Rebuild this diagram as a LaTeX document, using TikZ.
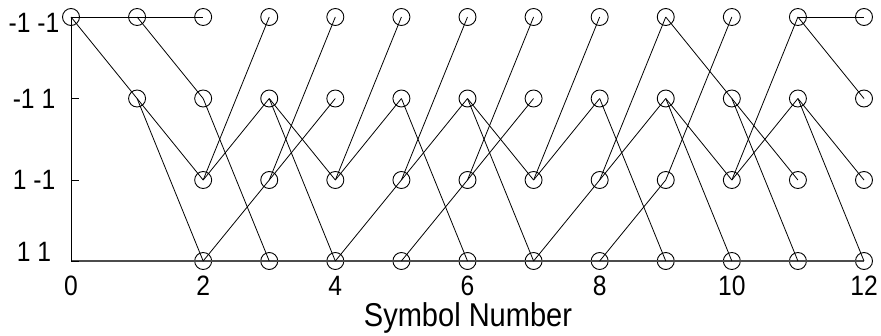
\documentclass[tikz,border=0pt]{standalone}
\usepackage{fontspec}
\setmainfont[FakeStretch=0.88]{Liberation Sans}
\begin{document}
\begin{tikzpicture}[x=1pt,y=1pt,
  state/.style={draw=black,circle,minimum size=17pt,inner sep=0pt,line width=0.9pt},
  path/.style={draw=black,line width=0.8pt},
  axisline/.style={draw=black,line width=0.9pt},
  xaxis/.style={draw=black!70,line width=1.6pt},
  ticklabel/.style={inner sep=0pt,font=\fontsize{28}{32}\selectfont},
  axislabel/.style={inner sep=0pt,font=\fontsize{33}{38}\selectfont}]
\useasboundingbox (0,0) rectangle (881,-335);
% states
\def\colx#1{71+66.083*#1}
\node[state] (n0a) at ({\colx{0}},-17) {};
\node[state] (n1a) at ({\colx{1}},-17) {};
\node[state] (n1b) at ({\colx{1}},-98.5) {};
\foreach \i in {2,...,12}{
  \node[state] (n\i a) at ({\colx{\i}},-17) {};
  \node[state] (n\i b) at ({\colx{\i}},-98.5) {};
  \node[state] (n\i c) at ({\colx{\i}},-180) {};
  \node[state] (n\i d) at ({\colx{\i}},-261) {};
}
% axes
\coordinate (o) at ({\colx{0}},-261);
\coordinate (tb) at ({\colx{0}},-98.5);
\coordinate (tc) at ({\colx{0}},-180);
\coordinate (tbe) at ({\colx{0}+8},-98.5);
\coordinate (tce) at ({\colx{0}+8},-180);
\coordinate (tde) at ({\colx{0}+8},-261);
\draw[xaxis] (o) -- (n12d.center);
\draw[axisline] (n0a.center) -- (o) -- (tde);
\draw[axisline] (tb) -- (tbe);
\draw[axisline] (tc) -- (tce);
% survivor paths
\foreach \s/\t in {0a/1a,0a/1b,1a/2a,1a/2b,1b/2c,1b/2d,
  2b/3d,2c/3a,2c/3b,2d/3c,
  3b/4c,3b/4d,3c/4a,3c/4b,
  4c/5a,4c/5b,4d/5c,
  5b/6d,5c/6a,5c/6b,5d/6c,
  6b/7c,6b/7d,6c/7a,6c/7b,
  7c/8a,7c/8b,7d/8c,
  8b/9d,8c/9a,8c/9b,8d/9c,
  9a/10b,9b/10c,9b/10d,9c/10a,
  10b/11c,10b/11d,10c/11a,10c/11b,
  11a/12a,11a/12b,11b/12c,11b/12d}{
  \draw[path] (n\s.center) -- (n\t.center);
}
% tick labels
\foreach \i in {0,2,...,12}{
  \node[ticklabel,anchor=base] (xl\i) at ({\colx{\i}},-295.5) {\i};
}
\node[ticklabel,anchor=base] (yla) at (34,-32) {-1 -1};
\node[ticklabel,anchor=base] (ylb) at (34,-108.5) {-1 1};
\node[ticklabel,anchor=base] (ylc) at (34,-189) {1 -1};
\node[ticklabel,anchor=base] (yld) at (34,-261) {1 1};
\node[axislabel,anchor=base] (xlab) at (468,-326.5) {Symbol Number};
\end{tikzpicture}
\end{document}
